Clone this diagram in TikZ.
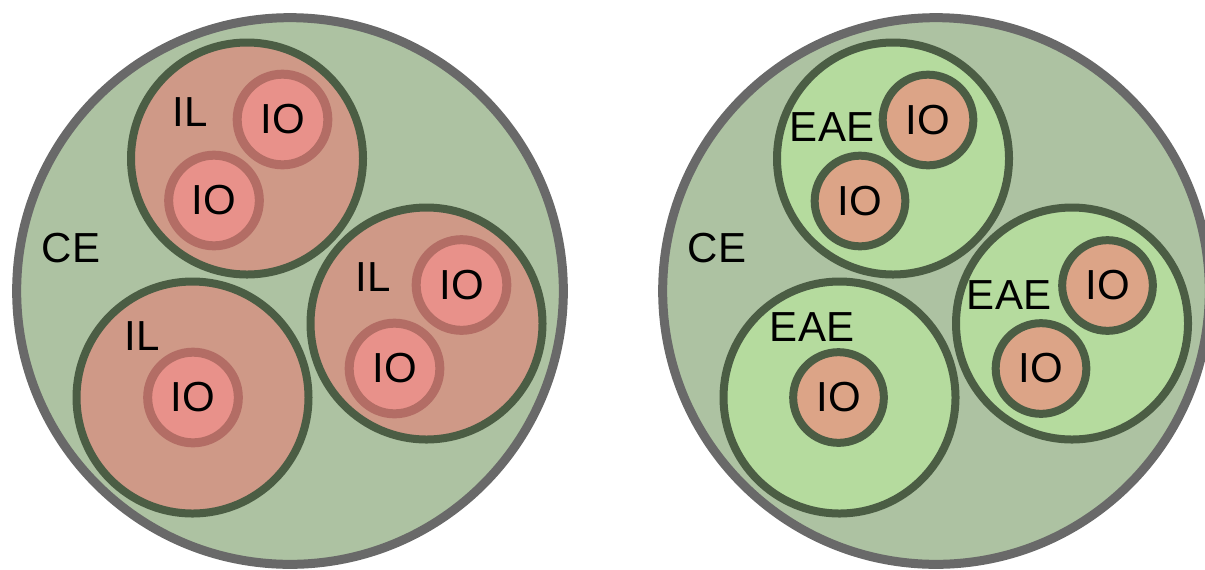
\documentclass[tikz,border=0pt]{standalone}
\usepackage{fontspec}
\setmainfont{Liberation Sans}
\definecolor{cegray}{HTML}{696969}
\definecolor{cefill}{HTML}{ADC2A2}
\definecolor{ilfill}{HTML}{CF9987}
\definecolor{ioredfill}{HTML}{E8918A}
\definecolor{ioredline}{HTML}{B36D65}
\definecolor{darkline}{HTML}{4B5D44}
\definecolor{eaefill}{HTML}{B5DB9E}
\definecolor{iotanfill}{HTML}{DCA487}

\begin{document}
\begin{tikzpicture}[x = 0.75pt, y = -0.75pt, every node/.style = {font = \fontsize{31.5}{36}\selectfont, inner sep = 0pt},
    cell/.style = {circle, draw = cegray, fill = cefill, line width = 6.75pt, minimum size = 410pt},
    lyso/.style = {circle, draw = darkline, fill = ilfill, line width = 6pt, minimum size = 174pt},
    endo/.style = {circle, draw = darkline, fill = eaefill, line width = 6pt, minimum size = 174pt},
    orgred/.style = {circle, draw = ioredline, fill = ioredfill, line width = 6.75pt, minimum size = 68pt},
    orgtan/.style = {circle, draw = darkline, fill = iotanfill, line width = 6pt, minimum size = 68pt}]
    \useasboundingbox (0, 0) rectangle (1205, 569);
    % left cell
    \node[cell] (ceL) at (290, 291) {};
    \node[lyso] (ilA) at (247, 158.5) {};
    \node[lyso] (ilB) at (192.5, 397.5) {};
    \node[lyso] (ilC) at (426.5, 323.5) {};
    \node[orgred] (ioA1) at (282.5, 119.5) {IO};
    \node[orgred] (ioA2) at (214, 200.5) {IO};
    \node[orgred] (ioB1) at (193, 397.5) {IO};
    \node[orgred] (ioC1) at (461.5, 285) {IO};
    \node[orgred] (ioC2) at (394.5, 368.5) {IO};
    \node (ceLtxt) at (71, 248) {CE};
    \node (ilAtxt) at (190, 112) {IL};
    \node (ilBtxt) at (142, 336.5) {IL};
    \node (ilCtxt) at (373, 277.5) {IL};
    % right cell
    \node[cell] (ceR) at (936, 291) {};
    \node[endo] (eaeA) at (893, 158.5) {};
    \node[endo] (eaeB) at (839.5, 397.5) {};
    \node[endo] (eaeC) at (1072, 323.5) {};
    \node[orgtan] (ioD1) at (928, 120) {IO};
    \node[orgtan] (ioD2) at (860, 201) {IO};
    \node[orgtan] (ioE1) at (838.5, 397.5) {IO};
    \node[orgtan] (ioF1) at (1107.5, 285.5) {IO};
    \node[orgtan] (ioF2) at (1041, 368.5) {IO};
    \node (ceRtxt) at (717, 248) {CE};
    \node (eaeAtxt) at (832, 127) {EAE};
    \node (eaeBtxt) at (812, 327.5) {EAE};
    \node (eaeCtxt) at (1009, 295) {EAE};
\end{tikzpicture}
\end{document}
